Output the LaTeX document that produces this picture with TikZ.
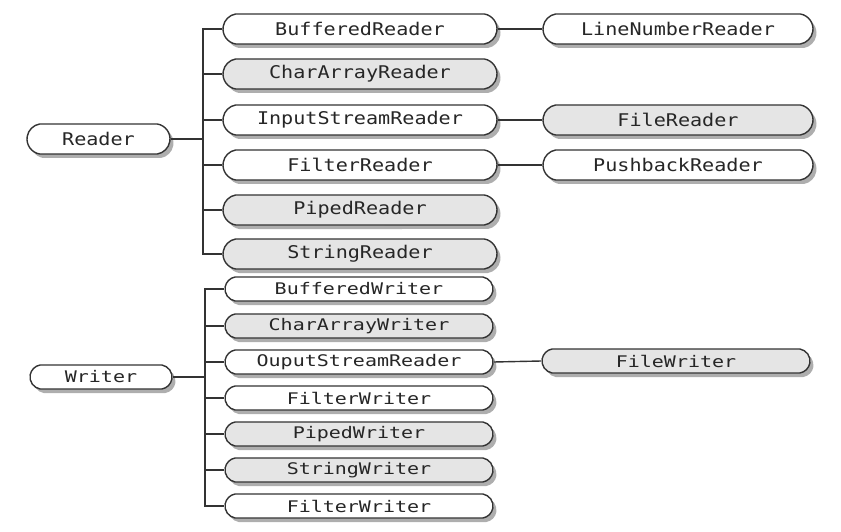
\documentclass[tikz,border=0pt]{standalone}
\usepackage{fontspec}
\newfontfamily\rfont[FakeStretch=1.15]{DejaVu Sans Mono}
\newfontfamily\wfont[FakeStretch=1.25]{DejaVu Sans Mono}
\usetikzlibrary{shapes.misc,shadows}
\tikzset{
  cls/.style={rounded rectangle, rounded rectangle arc length=160,
    draw=black!80, line width=1.4pt, inner sep=0pt, text=black!85,
    drop shadow={shadow xshift=3.5pt, shadow yshift=-4pt, fill=black!45, opacity=0.7}},
  rd/.style={cls, minimum height=30pt, font=\rfont\fontsize{17.5}{20}\selectfont},
  wr/.style={cls, minimum height=24pt, font=\wfont\fontsize{16}{18}\selectfont},
  wh/.style={fill=white},
  gr/.style={fill=black!10},
  conn/.style={draw=black!80, line width=1.4pt},
}
\begin{document}
\begin{tikzpicture}[x=1pt,y=-1pt]
\useasboundingbox (0,0) rectangle (841,532);
% Reader group
\node[rd,wh,minimum width=143pt] (reader) at (98.5,139) {Reader};
\node[rd,wh,minimum width=274pt] (br)  at (360,29)  {BufferedReader};
\node[rd,gr,minimum width=274pt] (car) at (360,74)  {CharArrayReader};
\node[rd,wh,minimum width=274pt] (isr) at (360,120) {InputStreamReader};
\node[rd,wh,minimum width=274pt] (fr)  at (360,165) {FilterReader};
\node[rd,gr,minimum width=274pt] (pr)  at (360,210) {PipedReader};
\node[rd,gr,minimum width=274pt] (sr)  at (360,254) {StringReader};
\node[rd,wh,minimum width=270pt] (lnr) at (678,29)  {LineNumberReader};
\node[rd,gr,minimum width=270pt] (flr) at (678,120) {FileReader};
\node[rd,wh,minimum width=270pt] (pbr) at (678,165) {PushbackReader};
\coordinate (rt) at (203,0);
% Writer group
\node[wr,wh,minimum width=142pt] (writer) at (101,377) {Writer};
\node[wr,wh,minimum width=268pt] (bw)  at (359,289) {BufferedWriter};
\node[wr,gr,minimum width=268pt] (caw) at (359,326) {CharArrayWriter};
\node[wr,wh,minimum width=268pt] (osr) at (359,362) {OuputStreamReader};
\node[wr,wh,minimum width=268pt] (fw)  at (359,398) {FilterWriter};
\node[wr,gr,minimum width=268pt] (pw)  at (359,434) {PipedWriter};
\node[wr,gr,minimum width=268pt] (sw)  at (359,470) {StringWriter};
\node[wr,wh,minimum width=268pt] (fw2) at (359,506) {FilterWriter};
\node[wr,gr,minimum width=268pt] (flw) at (676,361) {FileWriter};
\coordinate (wt) at (205,0);
% connectors: readers
\draw[conn] (reader.east) -- (reader.east -| rt);
\draw[conn] (br.west) -- (br.west -| rt) |- (sr.west);
\foreach \n in {car,isr,fr,pr} \draw[conn] (\n.west) -- (\n.west -| rt);
\draw[conn] (br.east) -- (lnr.west);
\draw[conn] (isr.east) -- (flr.west);
\draw[conn] (fr.east) -- (pbr.west);
% connectors: writers
\draw[conn] (writer.east) -- (writer.east -| wt);
\draw[conn] (bw.west) -- (bw.west -| wt) |- (fw2.west);
\foreach \n in {caw,osr,fw,pw,sw} \draw[conn] (\n.west) -- (\n.west -| wt);
\draw[conn] (osr.east) -- (flw.west);
\end{tikzpicture}
\end{document}
